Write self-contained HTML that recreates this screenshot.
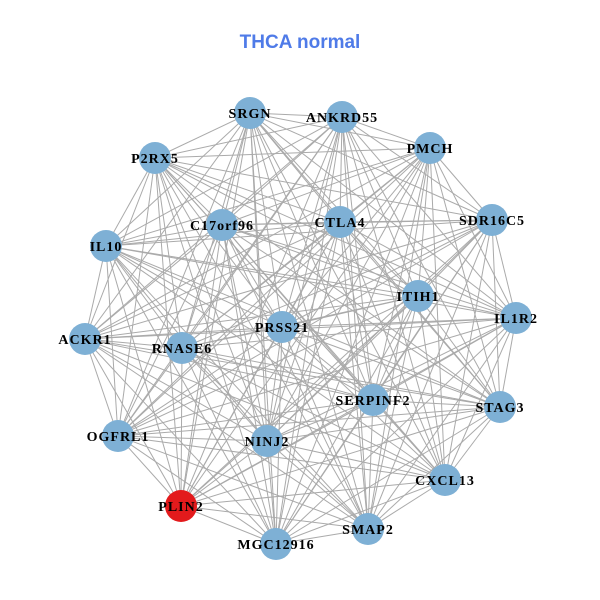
<!DOCTYPE html>
<html><head><meta charset="utf-8"><style>
html,body{margin:0;padding:0;background:#fff;}
</style></head><body>
<svg id="s" width="600" height="600" xmlns="http://www.w3.org/2000/svg" style="display:block">
<rect width="600" height="600" fill="#fff"/>
<text x="300" y="48" text-anchor="middle" font-family="Liberation Sans, sans-serif" font-weight="bold" font-size="19" fill="#4f7be8">THCA normal</text>
<g id="edges" stroke="#aaaaaa" stroke-width="1"></g>
<g id="nodes"></g>
<g font-family="Liberation Serif, serif" font-weight="bold" font-size="14" letter-spacing="1" fill="#000" text-anchor="middle">
<text x="250" y="118">SRGN</text>
<text x="342" y="122">ANKRD55</text>
<text x="430" y="153">PMCH</text>
<text x="155" y="163">P2RX5</text>
<text x="492" y="225">SDR16C5</text>
<text x="222" y="230">C17orf96</text>
<text x="340" y="227">CTLA4</text>
<text x="106" y="251">IL10</text>
<text x="418" y="301">ITIH1</text>
<text x="516" y="323">IL1R2</text>
<text x="85" y="344">ACKR1</text>
<text x="282" y="332">PRSS21</text>
<text x="182" y="353">RNASE6</text>
<text x="373" y="405">SERPINF2</text>
<text x="500" y="412">STAG3</text>
<text x="118" y="441">OGFRL1</text>
<text x="267" y="446">NINJ2</text>
<text x="445" y="485">CXCL13</text>
<text x="181" y="511">PLIN2</text>
<text x="368" y="534">SMAP2</text>
<text x="276" y="549">MGC12916</text>
</g>
</svg>
<script>
var N=[[250,113],[342,117],[430,148],[155,158],[492,220],[222,225],[340,222],[106,246],[418,296],[516,318],[85,339],[282,327],[182,348],[373,400],[500,407],[118,436],[267,441],[445,480],[181,506],[368,529],[276,544]];
var ns="http://www.w3.org/2000/svg",e=document.getElementById("edges"),g=document.getElementById("nodes");
for(var i=0;i<N.length;i++)for(var j=i+1;j<N.length;j++){var l=document.createElementNS(ns,"line");l.setAttribute("x1",N[i][0]);l.setAttribute("y1",N[i][1]);l.setAttribute("x2",N[j][0]);l.setAttribute("y2",N[j][1]);e.appendChild(l);}
for(var i=0;i<N.length;i++){var c=document.createElementNS(ns,"circle");c.setAttribute("cx",N[i][0]);c.setAttribute("cy",N[i][1]);c.setAttribute("r",16);c.setAttribute("fill",i==18?"#e31a1c":"#7eb0d5");g.appendChild(c);}
</script>
</body></html>
